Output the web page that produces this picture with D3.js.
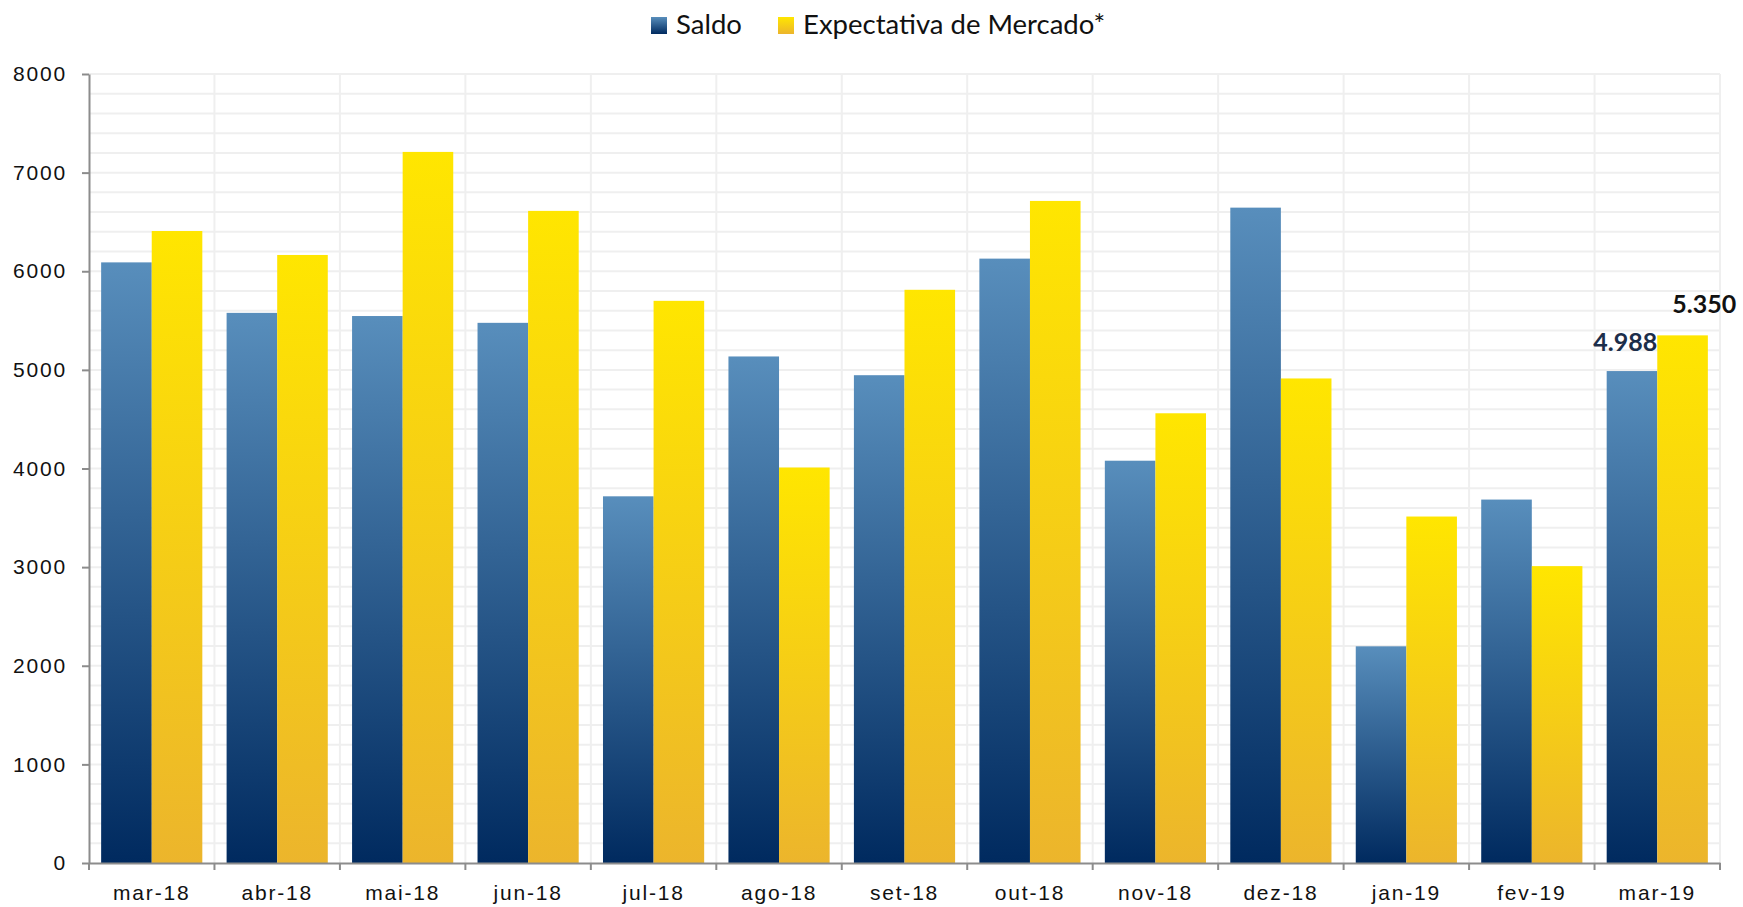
<!DOCTYPE html>
<html>
<head>
<meta charset="utf-8">
<script src="https://cdn.jsdelivr.net/npm/d3@7"></script>
<style>
  body { margin: 0; background: #fff; }
  svg { display: block; }
  .tick text { font-family: "Liberation Sans", Arial, sans-serif; font-size: 21px; letter-spacing: 1.8px; fill: #111; }
</style>
</head>
<body>
<svg id="chart"></svg>
<script>
const width = 1743;
const height = 907;

// dados
const meses = ["mar-18", "abr-18", "mai-18", "jun-18", "jul-18", "ago-18", "set-18",
    "out-18", "nov-18", "dez-18", "jan-19", "fev-19", "mar-19"];
const saldo = [6090, 5578, 5546, 5477, 3718, 5136, 4946, 6128, 4079, 6645, 2197, 3685, 4988];
const expectativa = [6408, 6165, 7210, 6612, 5700, 4010, 5812, 6713, 4560, 4913, 3513, 3010, 5350];
const series = ["Saldo", "Expectativa de Mercado*"];
const yTicks = [0, 1000, 2000, 3000, 4000, 5000, 6000, 7000, 8000];

const margin = { top: 74, right: 23, bottom: 44, left: 89 };

const svg = d3.select("#chart")
    .attr("width", width)
    .attr("height", height);

// gradientes das barras
const defs = svg.append("defs");
const gradBlue = defs.append("linearGradient")
    .attr("id", "gradSaldo")
    .attr("x1", 0).attr("y1", 0).attr("x2", 0).attr("y2", 1);
gradBlue.append("stop").attr("offset", "0%").attr("stop-color", "#588ebc");
gradBlue.append("stop").attr("offset", "100%").attr("stop-color", "#002a5f");

const gradYellow = defs.append("linearGradient")
    .attr("id", "gradExp")
    .attr("x1", 0).attr("y1", 0).attr("x2", 0).attr("y2", 1);
gradYellow.append("stop").attr("offset", "0%").attr("stop-color", "#ffe600");
gradYellow.append("stop").attr("offset", "100%").attr("stop-color", "#ecb52c");

const fills = ["url(#gradSaldo)", "url(#gradExp)"];

const x = d3.scaleBand()
    .domain(meses)
    .range([margin.left, width - margin.right])
    .padding(0);

const xSub = d3.scaleBand()
    .domain(series)
    .range([0, x.bandwidth()])
    .paddingInner(0)
    .paddingOuter(0.24);

const y = d3.scaleLinear()
    .domain([0, 8000])
    .range([height - margin.bottom, margin.top]);

// grade
const grid = svg.append("g");
grid.selectAll(".hgrid")
    .data(d3.range(200, 8001, 200))
    .enter().append("line")
    .attr("x1", margin.left)
    .attr("x2", width - margin.right)
    .attr("y1", d => y(d))
    .attr("y2", d => y(d))
    .attr("stroke", "#efefef")
    .attr("stroke-width", 2);

grid.selectAll(".vgrid")
    .data(meses.slice(1).concat(["fim"]))
    .enter().append("line")
    .attr("x1", d => d === "fim" ? width - margin.right : x(d))
    .attr("x2", d => d === "fim" ? width - margin.right : x(d))
    .attr("y1", y(8000))
    .attr("y2", y(0))
    .attr("stroke", "#efefef")
    .attr("stroke-width", 2);

// barras
const data = meses.map((m, i) => ({ mes: m, valores: [saldo[i], expectativa[i]] }));

const groups = svg.append("g")
    .selectAll("g")
    .data(data)
    .enter().append("g")
    .attr("transform", d => `translate(${x(d.mes)},0)`);

groups.selectAll("rect")
    .data(d => d.valores.map((v, j) => ({ serie: series[j], valor: v, j: j })))
    .enter().append("rect")
    .attr("x", d => xSub(d.serie))
    .attr("width", xSub.bandwidth())
    .attr("y", d => y(d.valor))
    .attr("height", d => y(0) - y(d.valor))
    .attr("fill", d => fills[d.j]);

// eixos
const yAxis = svg.append("g")
    .attr("transform", `translate(${margin.left},0)`)
    .call(d3.axisLeft(y).tickValues(yTicks).tickFormat(d3.format("d"))
        .tickSize(7).tickPadding(15).tickSizeOuter(0));
yAxis.select(".domain").attr("stroke", "#8c8c8c").attr("stroke-width", 2);
yAxis.selectAll(".tick line").attr("stroke", "#8c8c8c").attr("stroke-width", 2);

const xAxis = svg.append("g")
    .attr("transform", `translate(0,${y(0)})`)
    .call(d3.axisBottom(x).tickSize(0).tickPadding(22));
xAxis.select(".domain").attr("stroke", "#8c8c8c").attr("stroke-width", 2);
xAxis.selectAll(".tick text").attr("dy", "0.71em");

// marcas do eixo x nas bordas das categorias
svg.append("g")
    .selectAll("line")
    .data(meses.concat(["fim"]))
    .enter().append("line")
    .attr("x1", d => d === "fim" ? width - margin.right : x(d))
    .attr("x2", d => d === "fim" ? width - margin.right : x(d))
    .attr("y1", y(0))
    .attr("y2", y(0) + 7)
    .attr("stroke", "#8c8c8c")
    .attr("stroke-width", 2);

// rótulos do último mês
const last = meses[meses.length - 1];
const fmt = v => d3.format(",")(v).replace(",", ".");
svg.append("text")
    .attr("x", x(last) + xSub(series[0]) + xSub.bandwidth())
    .attr("y", y(saldo[saldo.length - 1]) - 20)
    .attr("text-anchor", "end")
    .style("font-family", "Lato, 'Open Sans', sans-serif")
    .style("font-weight", "bold")
    .style("font-size", "25px")
    .attr("fill", "#1c2e4a")
    .text(fmt(saldo[saldo.length - 1]));

svg.append("text")
    .attr("x", x(last) + xSub(series[1]) + 15)
    .attr("y", y(expectativa[expectativa.length - 1]) - 22)
    .style("font-family", "Lato, 'Open Sans', sans-serif")
    .style("font-weight", "bold")
    .style("font-size", "25px")
    .attr("fill", "#111")
    .text(fmt(expectativa[expectativa.length - 1]));

// legenda
const legend = svg.append("g");
const legendX = [651, 778];
series.forEach((s, i) => {
    legend.append("rect")
        .attr("x", legendX[i])
        .attr("y", 17)
        .attr("width", 16)
        .attr("height", 17)
        .attr("fill", fills[i]);
    legend.append("text")
        .attr("x", legendX[i] + 25)
        .attr("y", 34)
        .style("font-family", "Lato, 'Open Sans', sans-serif")
        .style("font-size", "27.5px")
        .attr("fill", "#111")
        .text(s);
});
</script>
</body>
</html>
